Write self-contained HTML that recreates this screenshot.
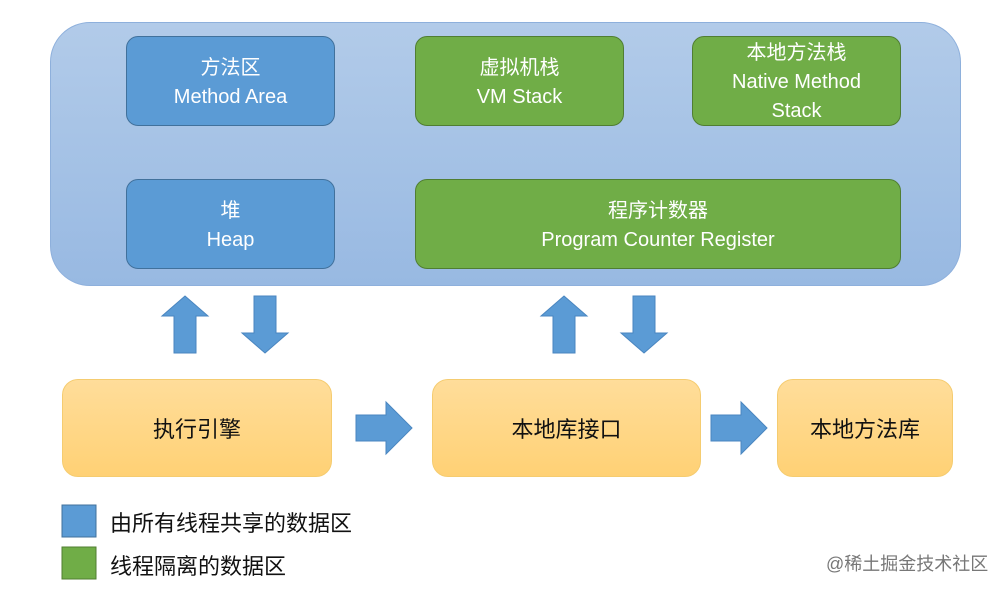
<!DOCTYPE html>
<html><head><meta charset="utf-8"><style>
body{margin:0;width:1005px;height:590px;background:#fff;position:relative;overflow:hidden;font-family:"Liberation Sans","Noto Sans CJK SC",sans-serif}
.a{position:absolute;box-sizing:border-box;display:flex;flex-direction:column;align-items:center;justify-content:center;text-align:center}
.outer{left:50px;top:22px;width:911px;height:264px;border-radius:40px;background:linear-gradient(#b2cbe9,#98b9e2);border:1px solid #8eb0dc}
.b{background:#5b9bd5;border:1px solid #41719c;border-radius:12px;color:#fff;font-size:20px;line-height:29px;padding-top:3px}
.g{background:#70ad47;border:1px solid #507e32;border-radius:12px;color:#fff;font-size:20px;line-height:29px;padding-top:3px}
.y{background:linear-gradient(#ffdd9a,#ffd175);border:1px solid #f5cc70;border-radius:16px;color:#111;font-size:22px}
.lg{font-size:22px;color:#111;position:absolute;left:110px}
</style></head><body>
<div class="a outer"></div>
<div class="a b" style="left:126px;top:36px;width:209px;height:90px">方法区<br>Method Area</div>
<div class="a b" style="left:126px;top:179px;width:209px;height:90px">堆<br>Heap</div>
<div class="a g" style="left:415px;top:36px;width:209px;height:90px">虚拟机栈<br>VM Stack</div>
<div class="a g" style="left:692px;top:36px;width:209px;height:90px">本地方法栈<br>Native Method<br>Stack</div>
<div class="a g" style="left:415px;top:179px;width:486px;height:90px">程序计数器<br>Program Counter Register</div>
<svg style="position:absolute;left:0;top:0" width="1005" height="590">
<g fill="#5b9bd5" stroke="#4a86c0" stroke-width="1">
<polygon points="185,296 208,316 196,316 196,353 174,353 174,316 162,316"/>
<polygon points="265,353 288,333 276,333 276,296 254,296 254,333 242,333"/>
<polygon points="564,296 587,316 575,316 575,353 553,353 553,316 541,316"/>
<polygon points="644,353 667,333 655,333 655,296 633,296 633,333 621,333"/>
<polygon points="412,428 386,402 386,415 356,415 356,441 386,441 386,454"/>
<polygon points="767,428 741,402 741,415 711,415 711,441 741,441 741,454"/>
</g>
<rect x="62" y="505" width="34" height="32" fill="#5b9bd5" stroke="#41719c"/>
<rect x="62" y="547" width="34" height="32" fill="#70ad47" stroke="#507e32"/>
</svg>
<div class="a y" style="left:62px;top:379px;width:270px;height:98px">执行引擎</div>
<div class="a y" style="left:432px;top:379px;width:269px;height:98px">本地库接口</div>
<div class="a y" style="left:777px;top:379px;width:176px;height:98px">本地方法库</div>
<div class="lg" style="top:506px">由所有线程共享的数据区</div>
<div class="lg" style="top:549px">线程隔离的数据区</div>
<div style="position:absolute;left:826px;top:550px;font-size:18px;color:#777">@稀土掘金技术社区</div>
</body></html>
